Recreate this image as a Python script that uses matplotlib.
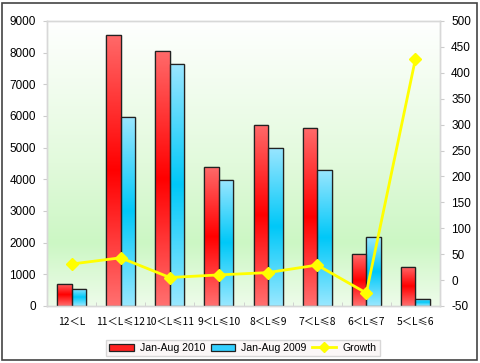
import numpy as np
import matplotlib
matplotlib.use("Agg")
import matplotlib.pyplot as plt
from matplotlib.colors import LinearSegmentedColormap
from matplotlib.patches import Rectangle, Patch
from matplotlib.lines import Line2D

plt.rcParams["font.family"] = ["Liberation Sans", "DejaVu Sans"]

categories = ["12＜L", "11＜L≤12", "10＜L≤11", "9＜L≤10", "8＜L≤9", "7＜L≤8", "6＜L≤7", "5＜L≤6"]
sales_2010 = [705, 8558, 8042, 4379, 5726, 5611, 1632, 1242]
sales_2009 = [537, 5979, 7653, 3979, 5000, 4305, 2168, 232]
growth = [31, 43, 5, 10, 14.5, 29, -25, 427]
left_ticks = [0, 1000, 2000, 3000, 4000, 5000, 6000, 7000, 8000, 9000]
right_ticks = [-50, 0, 50, 100, 150, 200, 250, 300, 350, 400, 450, 500]

fig = plt.figure(figsize=(4.8, 3.63), dpi=100)
ax = fig.add_axes([47/480, 1-306/363, (440-47)/480, (306-21)/363])
ax2 = ax.twinx()

x = np.arange(len(categories))
w = 0.295

ax.set_xlim(-0.5, len(categories)-0.5)
ax.set_ylim(0, 9000)
ax2.set_ylim(-50, 500)

# background gradient
bg = LinearSegmentedColormap.from_list("bg", [(0, "#eefcea"), (0.22, "#ccf7c4"), (0.5, "#e2fadc"), (1, "#ffffff")])
grad = np.linspace(0, 1, 256).reshape(-1, 1)
ax.imshow(grad, extent=[-0.5, len(categories)-0.5, 0, 9000], origin="lower",
          cmap=bg, aspect="auto", zorder=0)

red_cm = LinearSegmentedColormap.from_list("r", [(0, "#ff7070"), (0.5, "#ff0000"), (1, "#ff6a6a")])
blue_cm = LinearSegmentedColormap.from_list("b", [(0, "#99e8ff"), (0.5, "#00c8f8"), (1, "#9be6ff")])

def grad_bars(xs, hs, cmap, color):
    bars = ax.bar(xs, hs, width=w, color=color, edgecolor="#222222", linewidth=0.9, zorder=2)
    for b in bars:
        bx, by = b.get_x(), b.get_y()
        bw, bh = b.get_width(), b.get_height()
        im = ax.imshow(grad, extent=[bx, bx+bw, by, by+bh], origin="lower", cmap=cmap,
                       aspect="auto", zorder=2.5)
        im.set_clip_path(b)
        r = Rectangle((bx, by), bw, bh, fill=False, edgecolor="#222222", linewidth=0.9, zorder=3)
        ax.add_patch(r)
    return bars

grad_bars(x - w/2, sales_2010, red_cm, "#ff3030")
grad_bars(x + w/2, sales_2009, blue_cm, "#33d0ff")

ax.set_xlim(-0.5, len(categories)-0.5)
ax.set_ylim(0, 9000)

ax2.plot(x, growth, color="#ffff00", linewidth=2, marker="D", markersize=6,
         markerfacecolor="#ffff00", markeredgecolor="#ffff00", zorder=5)

ax.set_yticks(left_ticks)
ax.set_yticklabels([str(t) for t in left_ticks])
ax2.set_yticks(right_ticks)
ax2.set_yticklabels([str(t) for t in right_ticks])
ax.set_xticks(x)
ax.set_xticklabels(categories, fontfamily=["Noto Sans CJK SC", "DejaVu Sans"], fontsize=7.4)
ax.set_xticks(np.arange(len(categories)+1) - 0.5, minor=True)
ax.tick_params(axis="x", which="major", length=0, pad=8)
ax.tick_params(axis="x", which="minor", length=3, color="#cccccc", direction="in")
ax.tick_params(axis="y", length=3, color="#cccccc", labelsize=8.5, pad=5)
ax2.tick_params(axis="y", length=3, color="#cccccc", labelsize=8.5, pad=5)
for a in (ax, ax2):
    for s in a.spines.values():
        s.set_color("#d8d8d8")
        s.set_linewidth(1)
ax.set_zorder(1)
ax2.set_zorder(2)
ax2.patch.set_visible(False)

handles = [Patch(facecolor="#ff2020", edgecolor="#222222", linewidth=0.9),
           Patch(facecolor="#33d0ff", edgecolor="#222222", linewidth=0.9),
           Line2D([0], [0], color="#ffff00", linewidth=2, marker="D", markersize=5)]
leg = fig.legend(handles, ["Jan-Aug 2010", "Jan-Aug 2009", "Growth"], ncol=3,
                 loc="center", bbox_to_anchor=(243/480, 1-348/363), fontsize=7.6,
                 frameon=True, fancybox=False, handlelength=2.3, columnspacing=0.5,
                 handletextpad=0.6, borderpad=0.3)
leg.get_frame().set_edgecolor("#cfcfcf")
leg.get_frame().set_facecolor("#faf5f5")
leg.get_frame().set_linewidth(1)

fig.patches.append(Rectangle((2/480, 3/363), 475/480, 357/363, transform=fig.transFigure,
                             fill=False, edgecolor="#444444", linewidth=1.2))

fig.savefig("out.png", dpi=100)
